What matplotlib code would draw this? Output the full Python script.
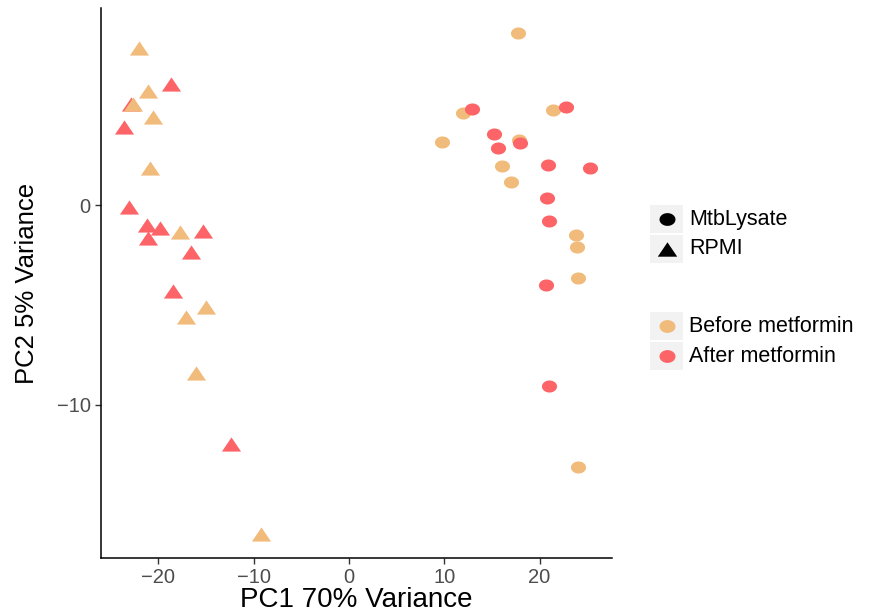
import matplotlib
matplotlib.use('Agg')
import matplotlib.pyplot as plt
from matplotlib.path import Path
from matplotlib.lines import Line2D
from matplotlib.patches import Rectangle
import numpy as np

plt.rcParams['font.family'] = ['Liberation Sans', 'DejaVu Sans']

before_col = '#F1BB7B'
after_col = '#FD6467'

# MtbLysate (circles)
mtb_before_x = [17.7, 12.0, 21.4, 9.8, 17.8, 16.1, 17.0, 23.8, 23.9, 24.0, 24.0]
mtb_before_y = [8.66, 4.64, 4.77, 3.18, 3.30, 1.97, 1.17, -1.49, -2.11, -3.67, -13.15]
mtb_after_x = [12.9, 22.8, 15.2, 17.9, 15.6, 20.9, 25.3, 20.8, 21.0, 20.7, 21.0]
mtb_after_y = [4.81, 4.94, 3.57, 3.12, 2.88, 2.03, 1.87, 0.37, -0.80, -4.02, -9.05]

# RPMI (triangles)
rpmi_before_x = [-22.0, -21.1, -22.6, -20.5, -20.9, -17.7, -15.0, -17.1, -16.0, -9.2]
rpmi_before_y = [7.9, 5.73, 5.1, 4.44, 1.88, -1.34, -5.1, -5.6, -8.4, -16.5]
rpmi_after_x = [-18.7, -22.9, -23.6, -23.1, -21.2, -19.8, -15.3, -21.1, -16.6, -18.5, -12.4]
rpmi_after_y = [6.07, 5.1, 3.93, -0.08, -1.0, -1.12, -1.31, -1.62, -2.35, -4.3, -12.0]

# ellipse / wide triangle markers (reference is stretched horizontally)
t = np.linspace(0, 2 * np.pi, 60)
ellipse = Path(np.column_stack([0.5 * np.cos(t), 0.4 * np.sin(t)]), closed=True)
tri = Path([(-0.5, -0.37), (0.5, -0.37), (0, 0.37), (-0.5, -0.37)], closed=True)

fig = plt.figure(figsize=(8.81, 6.16), dpi=100)
ax = fig.add_axes([101 / 881, 1 - 558 / 616, 511 / 881, 550 / 616])

ax.scatter(mtb_before_x, mtb_before_y, marker=ellipse, s=118, color=before_col, linewidths=0)
ax.scatter(mtb_after_x, mtb_after_y, marker=ellipse, s=118, color=after_col, linewidths=0)
ax.scatter(rpmi_after_x, rpmi_after_y, marker=tri, s=190, color=after_col, linewidths=0)
ax.scatter(rpmi_before_x, rpmi_before_y, marker=tri, s=190, color=before_col, linewidths=0)

ax.set_xlim(-26.0, 27.6)
ax.set_ylim(-17.7, 9.9)
ax.set_xticks([-20, -10, 0, 10, 20])
ax.set_yticks([-10, 0])
for s in ['top', 'right']:
    ax.spines[s].set_visible(False)
for s in ['left', 'bottom']:
    ax.spines[s].set_color('black')
    ax.spines[s].set_linewidth(1.1)
ax.tick_params(colors='#333333', labelcolor='#4D4D4D', labelsize=14.5, length=4, width=1)
ax.set_xlabel('PC1 70% Variance', fontsize=20, labelpad=0)
ax.set_ylabel('PC2 5% Variance', fontsize=18.5, labelpad=13)

# legends drawn in pixel coords of the figure
W, H = 881, 616

def fx(px):
    return px / W

def fy(py):
    return 1 - py / H

shape_labels = ['MtbLysate', 'RPMI']
shape_markers = [ellipse, tri]
shape_ms = [11.5, 14]
color_labels = ['Before metformin', 'After metformin']
color_values = [before_col, after_col]

rows = [(205, shape_labels, shape_markers, ['black', 'black'], shape_ms),
        (312, color_labels, [ellipse, ellipse], color_values, [11.5, 11.5])]
for top, labels, markers, cols, sizes in rows:
    for i, lab in enumerate(labels):
        y0 = top + i * 30
        fig.add_artist(Rectangle((fx(650), fy(y0 + 28)), 33 / W, 28 / H,
                                 transform=fig.transFigure, facecolor='#F2F2F2',
                                 edgecolor='none'))
        fig.add_artist(Line2D([fx(666.5)], [fy(y0 + 14)], marker=markers[i],
                              markersize=sizes[i], color=cols[i], linestyle='none',
                              markeredgewidth=0, transform=fig.transFigure))
        fig.text(fx(689), fy(y0 + 14), lab, fontsize=15.5, va='center', ha='left')

fig.savefig('out.png', dpi=100)
